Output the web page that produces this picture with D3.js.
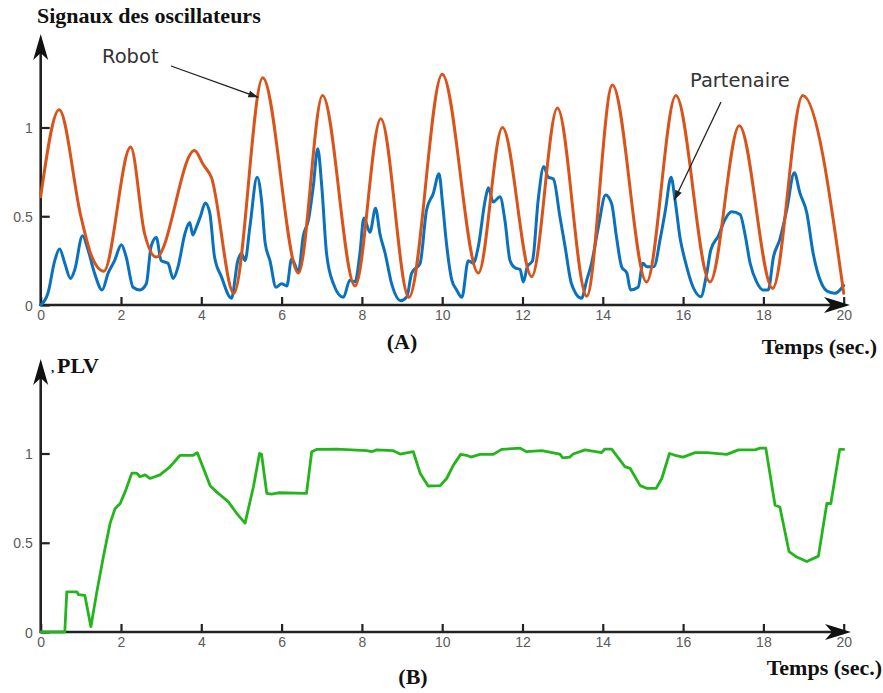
<!DOCTYPE html>
<html>
<head>
<meta charset="utf-8">
<script src="https://cdn.jsdelivr.net/npm/d3@7"></script>
<style>
  body { margin: 0; background: #fff; }
  .tick text { font-family: "Liberation Sans", Arial, sans-serif; font-size: 14px; fill: #5a5a5a; }
  .ttl { font-family: "Liberation Serif", "Times New Roman", serif; font-weight: bold; font-size: 22px; fill: #111; }
  .note { font-family: "DejaVu Sans", sans-serif; font-size: 19.5px; fill: #333; }
</style>
</head>
<body>
<svg width="883" height="693"></svg>
<script>
// --- data ---
const xTicks = [0, 2, 4, 6, 8, 10, 12, 14, 16, 18, 20];
const yTicks = [0, 0.5, 1];

const robotT = [0, 0.46, 1.0, 1.26, 1.57, 2.24, 2.59, 2.88, 3.83, 4.05, 4.25, 4.81, 5.53, 6.42, 7.02, 7.83, 8.47, 9.17, 10.0,
  10.9, 11.5, 12.23, 12.87, 13.6, 14.24, 15.09, 15.82, 16.67, 17.4, 18.23, 18.98, 20];
const robotV = [0.61, 1.10, 0.50, 0.28, 0.19, 0.89, 0.40, 0.27, 0.87, 0.79, 0.72, 0.066, 1.28, 0.18, 1.18, 0.107, 1.05, 0.043, 1.30,
  0.18, 1.00, 0.16, 1.11, 0.05, 1.24, 0.13, 1.18, 0.13, 1.01, 0.094, 1.18, 0.066];

const partT = [0, 0.18, 0.35, 0.47, 0.6, 0.74, 0.85, 1.04, 1.18, 1.34, 1.53, 1.68, 1.84, 2.01, 2.13, 2.3, 2.47, 2.63, 2.75, 2.88,
  3.0, 3.17, 3.3, 3.42, 3.59, 3.71, 3.79, 3.88, 3.98, 4.1, 4.21, 4.33, 4.5, 4.75, 4.91, 5.0, 5.09, 5.21, 5.39, 5.5,
  5.59, 5.71, 5.86, 6.0, 6.13, 6.25, 6.42, 6.54, 6.67, 6.79, 6.9, 7.0, 7.12, 7.29, 7.54, 7.7, 7.83, 7.95, 8.05, 8.2,
  8.34, 8.45, 8.58, 8.74, 8.97, 9.12, 9.24, 9.45, 9.61, 9.78, 9.92, 10.01, 10.1, 10.24, 10.36, 10.49, 10.65, 10.77, 10.9, 11.07,
  11.15, 11.27, 11.44, 11.56, 11.69, 11.81, 11.94, 12.02, 12.12, 12.25, 12.39, 12.53, 12.64, 12.77, 12.93, 13.06, 13.22, 13.47, 13.6, 13.72,
  13.89, 14.07, 14.22, 14.34, 14.47, 14.6, 14.69, 14.88, 15.0, 15.1, 15.27, 15.44, 15.56, 15.7, 15.8, 15.93, 16.05, 16.25, 16.44, 16.59,
  16.69, 16.88, 17.04, 17.21, 17.42, 17.54, 17.67, 17.83, 17.99, 18.12, 18.25, 18.41, 18.58, 18.77, 18.91, 19.08, 19.24, 19.45, 19.61, 19.78, 20];
const partV = [0, 0.066, 0.25, 0.315, 0.235, 0.15, 0.2, 0.39, 0.31, 0.18, 0.085, 0.18, 0.25, 0.34, 0.27, 0.10, 0.085, 0.12, 0.33, 0.38,
  0.25, 0.235, 0.15, 0.215, 0.40, 0.465, 0.395, 0.44, 0.50, 0.575, 0.52, 0.27, 0.16, 0.038, 0.25, 0.29, 0.25, 0.44, 0.72, 0.59,
  0.35, 0.25, 0.10, 0.12, 0.107, 0.26, 0.19, 0.39, 0.48, 0.67, 0.88, 0.67, 0.29, 0.12, 0.043, 0.14, 0.13, 0.29, 0.49, 0.41,
  0.545, 0.40, 0.29, 0.12, 0.024, 0.047, 0.18, 0.235, 0.535, 0.63, 0.74, 0.57, 0.36, 0.14, 0.085, 0.043, 0.25, 0.235, 0.33, 0.59,
  0.66, 0.58, 0.61, 0.48, 0.25, 0.21, 0.20, 0.13, 0.215, 0.25, 0.59, 0.78, 0.72, 0.71, 0.50, 0.33, 0.12, 0.038, 0.14, 0.235,
  0.44, 0.62, 0.57, 0.385, 0.215, 0.18, 0.085, 0.10, 0.235, 0.215, 0.215, 0.385, 0.535, 0.72, 0.59, 0.37, 0.25, 0.10, 0.047, 0.18,
  0.31, 0.39, 0.48, 0.525, 0.51, 0.40, 0.235, 0.13, 0.085, 0.085, 0.27, 0.37, 0.535, 0.745, 0.63, 0.52, 0.29, 0.12, 0.075, 0.066, 0.11];

const plvT = [0, 0.6, 0.65, 0.9, 0.94, 1.1, 1.25, 1.39, 1.56, 1.73, 1.85, 1.98, 2.12, 2.27, 2.39, 2.47, 2.6, 2.72, 2.97, 3.22,
  3.47, 3.8, 3.9, 4.22, 4.38, 4.67, 4.88, 5.09, 5.3, 5.45, 5.5, 5.63, 5.75, 5.92, 6.62, 6.75, 6.87, 7.37, 8.12, 8.24,
  8.37, 8.78, 8.95, 9.28, 9.45, 9.65, 9.95, 10.11, 10.28, 10.46, 10.61, 10.71, 10.94, 11.27, 11.48, 11.94, 12.1, 12.48, 12.93, 13.0,
  13.18, 13.26, 13.56, 13.97, 14.05, 14.22, 14.55, 14.68, 14.93, 15.09, 15.33, 15.47, 15.66, 15.8, 16.0, 16.3, 16.59, 17.09, 17.38, 17.79,
  17.92, 18.06, 18.29, 18.41, 18.64, 18.83, 19.08, 19.37, 19.58, 19.68, 19.9, 20];
const plvV = [0, 0, 0.225, 0.225, 0.21, 0.205, 0.03, 0.215, 0.42, 0.61, 0.69, 0.72, 0.795, 0.89, 0.89, 0.87, 0.88, 0.86, 0.88, 0.925,
  0.99, 0.99, 1.005, 0.82, 0.785, 0.73, 0.665, 0.61, 0.815, 1.0, 0.997, 0.777, 0.773, 0.78, 0.777, 1.01, 1.023, 1.025, 1.016, 1.01,
  1.02, 1.016, 0.997, 1.01, 0.89, 0.818, 0.82, 0.86, 0.935, 0.995, 0.99, 0.98, 0.995, 0.995, 1.023, 1.03, 1.01, 1.016, 0.997, 0.976,
  0.98, 0.997, 1.02, 1.005, 1.025, 1.025, 0.926, 0.917, 0.82, 0.805, 0.805, 0.86, 1.0, 0.99, 0.98, 1.005, 1.005, 0.995, 1.02, 1.02,
  1.03, 1.03, 0.71, 0.70, 0.45, 0.42, 0.395, 0.425, 0.72, 0.72, 1.023, 1.023];

const svg = d3.select("svg");
const x = d3.scaleLinear().domain([0, 20]).range([40.7, 843.7]);
const yTop = d3.scaleLinear().domain([0, 1]).range([305, 127.5]);
const yBot = d3.scaleLinear().domain([0, 1]).range([632, 453.5]);

function drawAxes(y, tipY, tipX, xLabelShift) {
    const y0 = y(0), x0 = x(0);
    const gx = svg.append("g").attr("transform", `translate(0,${y0})`)
        .call(d3.axisBottom(x).tickValues(xTicks).tickSizeInner(-8).tickSizeOuter(0).tickPadding(xLabelShift))
        .call(g => g.select(".domain").remove());
    gx.selectAll(".tick line").attr("stroke", "#222").attr("stroke-width", 2.2);
    gx.selectAll(".tick text").attr("dy", null);

    const gy = svg.append("g").attr("transform", `translate(${x0},0)`)
        .call(d3.axisLeft(y).tickValues(yTicks).tickFormat(d3.format("")).tickSizeInner(-9).tickSizeOuter(0).tickPadding(8))
        .call(g => g.select(".domain").remove());
    gy.selectAll(".tick line").attr("stroke", "#222").attr("stroke-width", 2.2);
    gy.selectAll(".tick text").attr("dy", "0.36em");

    // axis lines with arrow heads
    svg.append("line").attr("x1", x0 - 1).attr("x2", tipX - 16).attr("y1", y0).attr("y2", y0)
        .attr("stroke", "#222").attr("stroke-width", 2.6);
    svg.append("line").attr("x1", x0).attr("x2", x0).attr("y1", y0 + 1).attr("y2", tipY + 16)
        .attr("stroke", "#222").attr("stroke-width", 2.6);
    svg.append("path")
        .attr("d", `M${tipX},${y0} L${tipX - 26},${y0 - 8} L${tipX - 19},${y0} L${tipX - 26},${y0 + 8} Z`)
        .attr("fill", "#111");
    svg.append("path")
        .attr("d", `M${x0},${tipY} L${x0 - 7.5},${tipY + 26} L${x0},${tipY + 19} L${x0 + 7.5},${tipY + 26} Z`)
        .attr("fill", "#111");
}

function drawLine(ts, vs, y, color, width, curve) {
    const pts = ts.map((t, i) => [t, vs[i]]);
    svg.append("path").datum(pts)
        .attr("fill", "none").attr("stroke", color).attr("stroke-width", width)
        .attr("stroke-linejoin", "round").attr("stroke-linecap", "round")
        .attr("d", d3.line().x(d => x(d[0])).y(d => y(d[1])).curve(curve));
}

function arrow(x1, y1, x2, y2) {
    svg.append("line").attr("x1", x1).attr("y1", y1).attr("x2", x2).attr("y2", y2)
        .attr("stroke", "#222").attr("stroke-width", 1.3);
    const a = Math.atan2(y2 - y1, x2 - x1), L = 10, W = 3.5;
    const bx = x2 - L * Math.cos(a), by = y2 - L * Math.sin(a);
    svg.append("path")
        .attr("d", `M${x2},${y2} L${bx - W * Math.sin(a)},${by + W * Math.cos(a)} L${bx + W * Math.sin(a)},${by - W * Math.cos(a)} Z`)
        .attr("fill", "#222");
}

// ---- panel A ----
drawAxes(yTop, 34, 850, 15);
drawLine(partT, partV, yTop, "#0a72bd", 3, d3.curveMonotoneX);
drawLine(robotT, robotV, yTop, "#d9541a", 3, d3.curveMonotoneX);

svg.append("text").attr("class", "ttl").attr("x", 37).attr("y", 23).text("Signaux des oscillateurs");
svg.append("text").attr("class", "note").attr("x", 102).attr("y", 63).text("Robot");
arrow(171, 66, x(5.42), yTop(1.17));
svg.append("text").attr("class", "note").attr("x", 690).attr("y", 87).text("Partenaire");
arrow(721, 102, x(15.78), yTop(0.59));
svg.append("text").attr("class", "ttl").attr("x", 402).attr("y", 349).attr("text-anchor", "middle").text("(A)");
svg.append("text").attr("class", "ttl").attr("x", 877).attr("y", 354).attr("text-anchor", "end").text("Temps (sec.)");

// ---- panel B ----
drawAxes(yBot, 359, 851, 15);
drawLine(plvT, plvV, yBot, "#23b51b", 2.8, d3.curveLinear);

svg.append("text").attr("class", "ttl").attr("x", 51).attr("y", 372).style("font-size", "13px").text(",");
svg.append("text").attr("class", "ttl").attr("x", 57).attr("y", 373).text("PLV");
svg.append("text").attr("class", "ttl").attr("x", 413).attr("y", 684).attr("text-anchor", "middle").text("(B)");
svg.append("text").attr("class", "ttl").attr("x", 882).attr("y", 675).attr("text-anchor", "end").text("Temps (sec.)");
</script>
</body>
</html>
